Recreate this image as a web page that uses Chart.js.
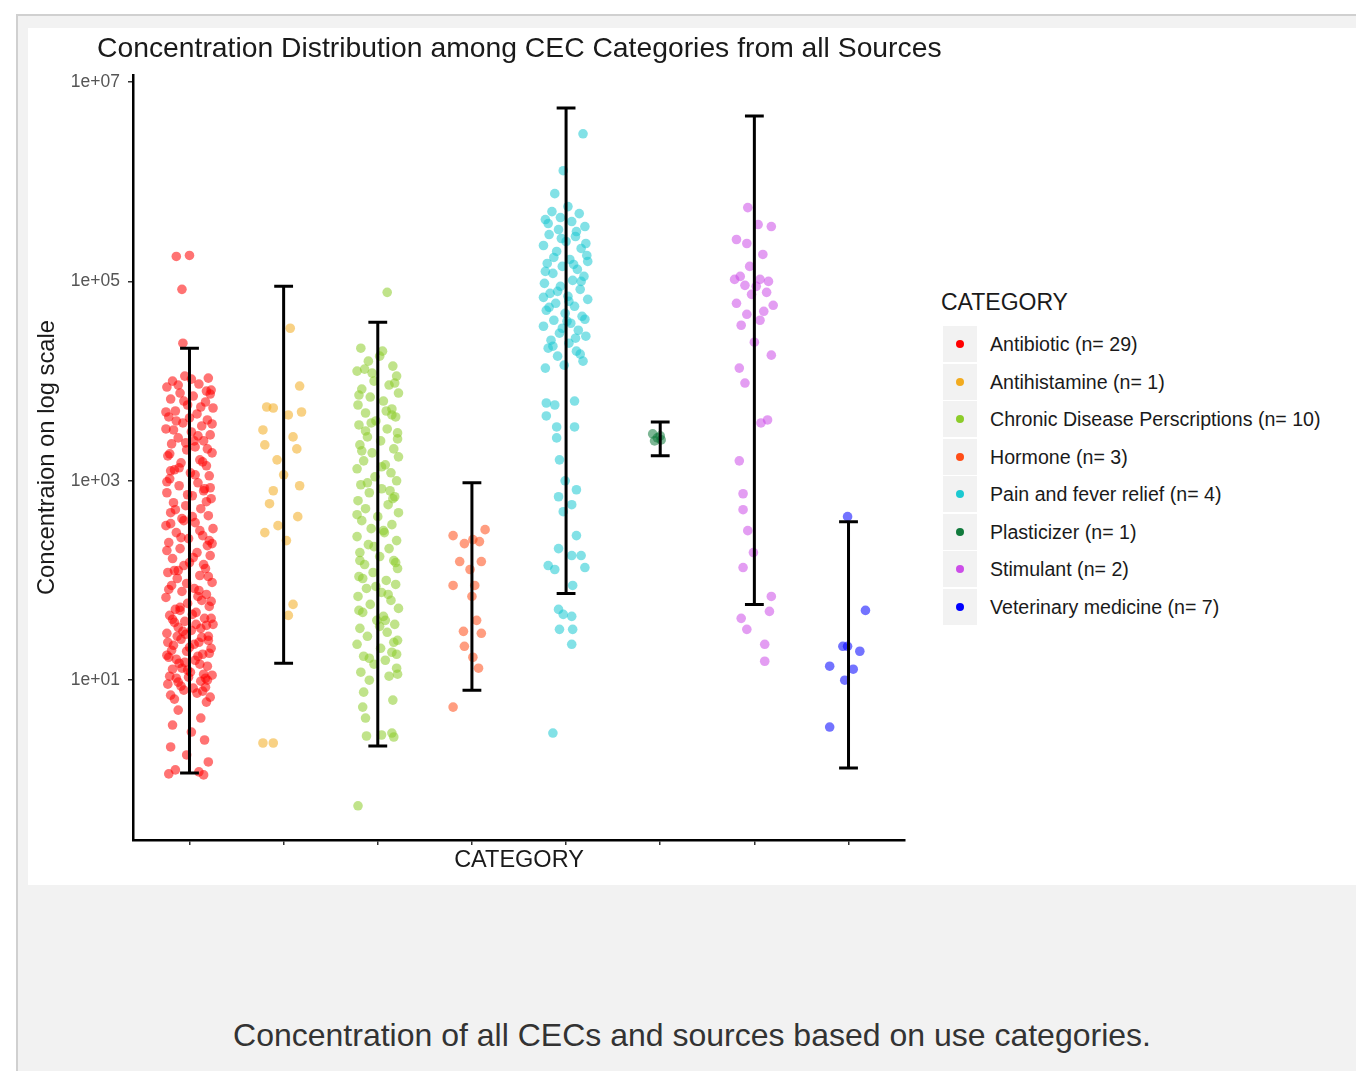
<!DOCTYPE html>
<html>
<head>
<meta charset="utf-8">
<script src="https://cdn.jsdelivr.net/npm/chart.js@4.4.1/dist/chart.umd.min.js"></script>
<style>
  body { margin: 0; background: #fff; font-family: "Liberation Sans", Arial, sans-serif; }
  #frame { position: absolute; left: 16px; top: 14px; width: 1340px; height: 1057px; background: #f2f2f2; border-left: 2px solid #d0d0d0; border-top: 2px solid #d0d0d0; }
  #figure { position: absolute; left: 28px; top: 28px; width: 1328px; height: 857px; background: #fff; }
  #chart { position: absolute; left: 0; top: 0; }
  #title { position: absolute; left: 69px; top: 5px; font-size: 28.3px; line-height: 28px; color: #1a1a1a; white-space: nowrap; }
  #legend-title { position: absolute; left: 913px; top: 263px; font-size: 23px; line-height: 23px; color: #1a1a1a; }
  .key { position: absolute; left: 915px; width: 34px; height: 36px; background: #f2f2f2; }
  .key span { position: absolute; left: 13px; top: 14px; width: 8px; height: 8px; border-radius: 50%; }
  .lab { position: absolute; left: 962px; font-size: 19.6px; line-height: 20px; color: #1a1a1a; white-space: nowrap; }
  #caption { position: absolute; left: 28px; width: 1328px; top: 1019px; text-align: center; font-size: 32px; line-height: 32px; color: #333; }
</style>
</head>
<body>
<div id="frame"></div>
<div id="figure">
  <canvas id="chart" width="882" height="857"></canvas>
  <div id="title">Concentration Distribution among CEC Categories from all Sources</div>
  <div id="legend-title">CATEGORY</div>
  <div id="legend"></div>
</div>
<div id="caption">Concentration of all CECs and sources based on use categories.</div>
<script>
// categories and legend labels
const categories = ['Antibiotic', 'Antihistamine', 'Chronic Disease Perscriptions', 'Hormone',
  'Pain and fever relief', 'Plasticizer', 'Stimulant', 'Veterinary medicine'];
const counts = [29, 1, 10, 3, 4, 1, 2, 7];
const colors = ['#ff0000', '#f2ab1f', '#8ccc2a', '#ff4d17', '#1cc9d1', '#117a3c', '#cc4de8', '#0000ff'];

// error bar ends, log10 of concentration
const errLow = [0.07, 1.17, 0.34, 0.90, 1.87, 3.25, 1.76, 0.12];
const errHigh = [4.33, 4.95, 4.59, 2.98, 6.74, 3.59, 6.66, 2.59];

// y ticks (log10)
const tickExps = [1, 3, 5, 7];

// points: [jitter in category units, log10 concentration]
const antibiotic = [
  [-0.14,5.25],[0.00,5.26],[-0.08,4.92],[-0.07,4.38],
  [-0.05,4.05],[0.20,4.03],[-0.18,4.00],[0.10,3.97],[-0.24,3.94],[0.23,3.91],[-0.10,3.88],[0.04,3.85],
  [-0.20,3.82],[0.17,3.79],[-0.02,3.76],[0.25,3.73],[-0.15,3.70],[0.08,3.67],[-0.22,3.64],[0.19,3.61],
  [-0.07,3.58],[0.13,3.55],[-0.25,3.52],[0.02,3.49],[0.22,3.46],[-0.12,3.43],[0.15,3.40],[-0.19,3.37],
  [0.06,3.34],[-0.03,3.31],[0.24,3.28],[-0.23,3.25],[0.11,3.21],[-0.09,3.18],[0.18,3.15],[-0.16,3.11],
  [0.01,3.08],[0.21,3.05],[-0.21,3.02],
  [0.09,2.98],[-0.11,2.95],[0.16,2.92],[-0.24,2.88],[0.03,2.85],[0.23,2.82],[-0.17,2.78],[-0.04,2.75],
  [0.12,2.72],[-0.20,2.68],[0.20,2.65],[-0.08,2.62],[0.06,2.58],[-0.25,2.55],[0.25,2.52],[-0.14,2.48],
  [0.14,2.45],[-0.01,2.42],[-0.22,2.38],[0.19,2.35],[-0.10,2.32],[0.08,2.28],[0.22,2.25],[-0.18,2.22],
  [0.00,2.18],[-0.06,2.15],[0.17,2.12],[-0.23,2.08],[0.11,2.05],[-0.13,2.02],
  [0.24,1.98],[-0.19,1.95],[0.05,1.92],[-0.08,1.89],[0.18,1.86],[-0.25,1.83],[0.13,1.80],[-0.02,1.77],
  [0.21,1.74],[-0.15,1.71],[0.07,1.68],[-0.21,1.65],[0.16,1.62],[-0.05,1.59],[0.25,1.56],[-0.12,1.53],
  [0.02,1.50],[-0.24,1.47],[0.20,1.44],[-0.09,1.41],[0.10,1.38],[-0.17,1.35],[0.23,1.32],[-0.03,1.29],
  [0.14,1.26],[-0.22,1.23],[0.06,1.20],[-0.11,1.17],[0.19,1.14],[-0.18,1.11],[0.01,1.08],[0.24,1.05],
  [-0.14,1.02],[0.12,0.99],[-0.23,0.96],[0.17,0.93],[-0.06,0.90],[0.08,0.87],[-0.20,0.85],[0.22,0.83],
  [-0.16,1.58],[0.12,1.52],[-0.04,1.46],[0.20,1.40],[-0.19,1.30],[0.09,1.24],[-0.08,1.12],[0.15,1.06],
  [-0.12,0.98],[0.04,0.92],
  [0.18,3.90],[-0.14,3.60],[0.05,3.40],[-0.20,3.10],[0.15,2.90],[-0.06,2.60],[0.21,2.40],[-0.16,2.10],
  [0.10,1.90],[-0.10,1.70],
  [0.02,4.02],[-0.12,3.96],[0.22,3.87],[-0.06,3.80],[0.12,3.74],[-0.25,3.69],[0.00,3.63],[0.24,3.57],
  [-0.17,3.51],[0.09,3.45],[-0.04,3.38],[0.19,3.32],[-0.21,3.27],[0.14,3.19],[-0.11,3.13],[0.06,3.06],
  [-0.24,2.99],[0.22,2.93],[-0.02,2.86],[0.18,2.79],[-0.15,2.71],[0.03,2.64],[-0.20,2.57],[0.11,2.50],
  [-0.09,2.43],[0.24,2.37],[-0.24,2.30],[0.04,2.23],[0.15,2.16],[-0.12,2.10],[0.20,2.04],[-0.03,1.97],
  [-0.22,1.91],[0.09,1.84],[0.23,1.79],[-0.10,1.73],[0.03,1.66],[-0.18,1.61],[0.18,1.55],[-0.07,1.49],
  [0.13,1.43],[-0.23,1.38],[0.00,1.33],[0.21,1.27],[-0.14,1.21],[0.11,1.16],[-0.02,1.10],[-0.21,1.04],
  [0.19,1.00],[-0.09,0.94],[0.14,0.89],[-0.16,0.81],[0.05,1.36],[-0.05,1.18],[0.17,1.02],[-0.24,1.25],
  [0.07,1.56],[-0.13,1.44],[0.23,1.62],[-0.01,1.03],
  [0.18,0.78],[-0.12,0.70],[0.12,0.62],[-0.18,0.55],[0.02,0.48],[0.16,0.40],[-0.20,0.33],[-0.03,0.25],
  [0.20,0.18],[-0.15,0.10],[0.10,0.08],[-0.22,0.06],[0.15,0.05]
];
const antihistamine = [
  [0.07,4.53],[0.17,3.95],[-0.18,3.74],[-0.11,3.73],[0.19,3.69],[0.05,3.66],[-0.22,3.51],[-0.20,3.36],
  [0.10,3.44],[0.14,3.32],[-0.07,3.21],[0.00,3.06],[0.17,2.95],[-0.11,2.90],[-0.15,2.77],[0.15,2.64],
  [-0.06,2.55],[-0.20,2.48],[0.03,2.40],[0.10,1.76],[0.05,1.65],[-0.22,0.37],[-0.11,0.37]
];
const chronic = [
  [0.10,4.89],
  [-0.18,4.33],[0.05,4.30],[-0.10,4.20],[0.16,4.15],[-0.22,4.10],[0.20,4.05],[-0.04,4.00],[0.12,3.96],
  [-0.17,3.92],[0.22,3.88],[-0.08,3.84],[0.06,3.80],[-0.21,3.76],[0.15,3.72],[-0.13,3.68],[0.19,3.64],
  [-0.02,3.60],[-0.20,3.56],[0.10,3.52],[0.21,3.48],[-0.11,3.44],[0.03,3.40],[-0.19,3.36],[0.17,3.32],
  [-0.06,3.28],[0.22,3.24],[-0.15,3.20],[0.08,3.16],[-0.22,3.12],[0.14,3.08],[-0.03,3.04],[0.20,3.00],
  [-0.18,2.96],[0.04,2.92],[-0.09,2.88],[0.18,2.84],[-0.21,2.80],[0.11,2.76],[-0.13,2.72],[0.22,2.68],
  [0.00,2.64],[-0.17,2.60],[0.15,2.56],[-0.07,2.52],[0.07,2.48],[-0.22,2.44],[0.20,2.40],[-0.10,2.36],
  [0.12,2.32],[-0.19,2.28],[0.02,2.24],[0.17,2.20],[-0.14,2.16],[0.21,2.12],[-0.05,2.08],[-0.20,2.04],
  [0.09,2.00],[0.19,1.96],[-0.12,1.92],[0.04,1.88],[-0.21,1.84],[0.14,1.80],[-0.08,1.76],[0.22,1.72],
  [-0.16,1.68],[0.06,1.64],[-0.01,1.60],[0.18,1.56],[-0.19,1.52],[0.10,1.48],[-0.11,1.44],[0.21,1.40],
  [-0.22,1.36],[0.03,1.32],[0.15,1.28],[-0.15,1.24],[0.08,1.20],[-0.04,1.16],[0.20,1.12],[-0.18,1.08],
  [0.12,1.04],[-0.09,1.00],
  [0.02,4.25],[-0.14,4.12],[0.18,3.98],[-0.20,3.86],[0.09,3.70],[-0.07,3.58],[0.21,3.42],[-0.17,3.30],
  [0.04,3.14],[-0.11,2.98],[0.16,2.82],[-0.22,2.66],[0.06,2.50],[-0.04,2.34],[0.19,2.18],[-0.16,2.02],
  [0.11,1.86],[-0.20,1.70],[0.02,1.54],[0.17,1.38],[-0.09,1.22],[0.21,1.06],[-0.13,3.50],[0.13,2.90],
  [-0.19,2.20],[0.08,1.60],[-0.02,1.94],[0.15,3.66],[-0.06,4.08],[0.20,1.26],
  [-0.15,0.88],[0.16,0.80],[-0.16,0.73],[-0.13,0.62],[0.15,0.47],[-0.12,0.44],[0.04,0.45],[0.17,0.43],
  [-0.21,-0.26]
];
const hormone = [
  [-0.20,2.45],[-0.08,2.37],[0.01,2.41],[0.14,2.51],[0.08,2.39],[-0.13,2.19],[0.10,2.19],[-0.02,2.11],
  [-0.20,1.95],[0.03,1.95],[0.00,1.84],[0.05,1.60],[-0.09,1.49],[0.10,1.47],[-0.08,1.34],[0.01,1.23],
  [0.07,1.12],[-0.20,0.73]
];
const painRelief = [
  [0.18,6.48],[-0.03,6.11],[-0.12,5.88],
  [0.02,5.75],[-0.15,5.70],[0.14,5.68],[-0.22,5.62],[0.06,5.60],[0.20,5.55],[-0.08,5.52],[-0.18,5.47],
  [0.10,5.45],[0.00,5.40],[-0.24,5.36],[0.16,5.33],[-0.10,5.30],[0.22,5.26],[0.04,5.22],[-0.20,5.18],
  [-0.04,5.15],[0.12,5.12],[-0.14,5.08],[0.19,5.05],[0.07,5.01],[-0.23,4.98],[-0.06,4.95],[0.15,4.92],
  [-0.17,4.88],[0.02,4.85],[0.23,4.82],[-0.11,4.78],[0.09,4.75],[-0.21,4.71],[-0.01,4.68],[0.17,4.65],
  [-0.13,4.61],[0.05,4.58],[-0.24,4.55],[0.13,4.51],[-0.07,4.48],[0.21,4.45],[-0.16,4.41],[0.03,4.38],
  [-0.19,4.33],[0.11,4.30],[-0.09,4.25],[0.18,4.20],[-0.02,4.16],[-0.22,4.13],
  [-0.19,5.58],[0.11,5.50],[-0.05,5.43],[0.21,5.38],[-0.13,5.24],[0.08,5.17],[-0.22,5.10],[0.16,5.00],
  [-0.09,4.90],[0.03,4.80],[-0.18,4.74],[0.20,4.62],[-0.04,4.53],[0.10,4.43],[-0.14,4.35],[0.15,4.27],
  [-0.06,5.64],[0.23,5.20],[-0.24,4.84],[0.01,4.60],
  [-0.21,3.78],[-0.12,3.76],[0.09,3.80],[-0.21,3.65],[-0.10,3.54],[0.09,3.54],[-0.10,3.43],[-0.07,3.21],
  [-0.01,3.00],[0.11,2.91],[-0.08,2.84],[0.06,2.76],[-0.03,2.69],[0.11,2.45],[-0.08,2.32],[0.06,2.25],
  [0.16,2.25],[-0.19,2.15],[-0.12,2.11],[0.20,2.13],[0.07,1.95],
  [-0.08,1.71],[-0.03,1.66],[0.06,1.64],[-0.07,1.51],[0.07,1.51],[0.06,1.36],[-0.14,0.47]
];
const plasticizer = [[-0.08,3.47],[-0.03,3.43],[0.01,3.41],[-0.06,3.40],[0.00,3.45]];
const stimulant = [
  [-0.07,5.74],[0.04,5.57],[0.18,5.55],[-0.19,5.42],[-0.08,5.38],[0.09,5.27],[-0.21,5.02],[-0.10,4.96],
  [0.06,5.02],[0.13,4.89],[-0.19,4.78],[-0.03,4.87],[0.20,4.76],[-0.08,4.67],[0.06,4.61],[-0.14,4.56],
  [0.00,4.39],[0.18,4.26],[-0.16,4.13],[-0.10,3.98],[0.14,3.61],[0.07,3.58],[-0.16,3.20],[-0.12,2.87],
  [-0.12,2.71],[-0.07,2.50],[-0.12,2.13],[-0.01,2.28],[0.18,1.84],[0.16,1.69],[-0.14,1.62],[-0.08,1.51],
  [0.11,1.36],[0.11,1.19],[-0.15,5.05],[0.02,4.95],[0.10,4.70],[-0.05,5.15],[0.15,5.00]
];
const veterinary = [
  [-0.01,2.64],[0.18,1.70],[-0.06,1.34],[-0.01,1.34],[0.12,1.29],[-0.20,1.14],[0.05,1.11],[-0.04,1.00],
  [-0.20,0.53]
];

const groups = [antibiotic, antihistamine, chronic, hormone, painRelief, plasticizer, stimulant, veterinary];
const capHalf = 0.1;
const yMinExp = -0.603, yMaxExp = 7.07;

Chart.defaults.font.family = '"Liberation Sans", Arial, sans-serif';

const datasets = groups.map((pts, i) => ({
  label: categories[i],
  data: pts.map(p => ({ x: i + 1 + p[0], y: Math.pow(10, p[1]) })),
  pointRadius: 4.8,
  pointBorderWidth: 0,
  pointBackgroundColor: colors[i] + '8c',
  showLine: false
}));

const errorBars = {
  id: 'errorBars',
  afterDatasetsDraw(chart) {
    const { ctx, scales: { x, y } } = chart;
    ctx.save();
    ctx.strokeStyle = '#000';
    ctx.lineWidth = 3;
    categories.forEach((c, i) => {
      const cx = x.getPixelForValue(i + 1);
      const half = x.getPixelForValue(i + 1 + capHalf) - cx;
      const top = y.getPixelForValue(Math.pow(10, errHigh[i]));
      const bot = y.getPixelForValue(Math.pow(10, errLow[i]));
      ctx.beginPath();
      ctx.moveTo(cx, top); ctx.lineTo(cx, bot);
      ctx.moveTo(cx - half, top); ctx.lineTo(cx + half, top);
      ctx.moveTo(cx - half, bot); ctx.lineTo(cx + half, bot);
      ctx.stroke();
    });
    ctx.restore();
  }
};

new Chart(document.getElementById('chart'), {
  type: 'scatter',
  data: { datasets },
  options: {
    responsive: false,
    animation: false,
    events: [],
    layout: { padding: { top: 47, right: 5, left: 0, bottom: 0 } },
    plugins: { legend: { display: false }, tooltip: { enabled: false } },
    scales: {
      x: {
        type: 'linear',
        min: 0.4,
        max: 8.6,
        afterBuildTicks: (s) => { s.ticks = categories.map((c, i) => ({ value: i + 1 })); },
        afterFit: (s) => { s.height = 45; },
        ticks: { callback: () => '', autoSkip: false },
        grid: { drawOnChartArea: false, drawTicks: true, tickLength: 5, color: '#333', lineWidth: 1.5 },
        border: { display: true, color: '#000', width: 2.5 },
        title: { display: true, text: 'CATEGORY', color: '#1a1a1a', font: { size: 23.5 }, padding: { bottom: 10, top: 0 } }
      },
      y: {
        type: 'logarithmic',
        min: Math.pow(10, yMinExp),
        max: Math.pow(10, yMaxExp),
        afterBuildTicks: (s) => { s.ticks = tickExps.map(e => ({ value: Math.pow(10, e) })); },
        afterFit: (s) => { s.width = 105; },
        ticks: {
          color: '#555',
          font: { size: 17.5 },
          padding: 8,
          callback: (v) => '1e+' + String(Math.round(Math.log10(v))).padStart(2, '0')
        },
        grid: { drawOnChartArea: false, drawTicks: true, tickLength: 5, color: '#333', lineWidth: 1.5 },
        border: { display: true, color: '#000', width: 2.5 },
        title: { display: true, text: 'Concentraion on log scale', color: '#1a1a1a', font: { size: 23.8 }, padding: { top: 5, bottom: 0 } }
      }
    }
  },
  plugins: [errorBars]
});

// legend, ggplot style
const legend = document.getElementById('legend');
categories.forEach((c, i) => {
  const cy = 316 + i * 37.57;
  const key = document.createElement('div');
  key.className = 'key';
  key.style.top = (cy - 18) + 'px';
  const dot = document.createElement('span');
  dot.style.background = colors[i];
  key.appendChild(dot);
  legend.appendChild(key);
  const lab = document.createElement('div');
  lab.className = 'lab';
  lab.style.top = (cy - 10) + 'px';
  lab.textContent = c + ' (n= ' + counts[i] + ')';
  legend.appendChild(lab);
});
</script>
</body>
</html>
